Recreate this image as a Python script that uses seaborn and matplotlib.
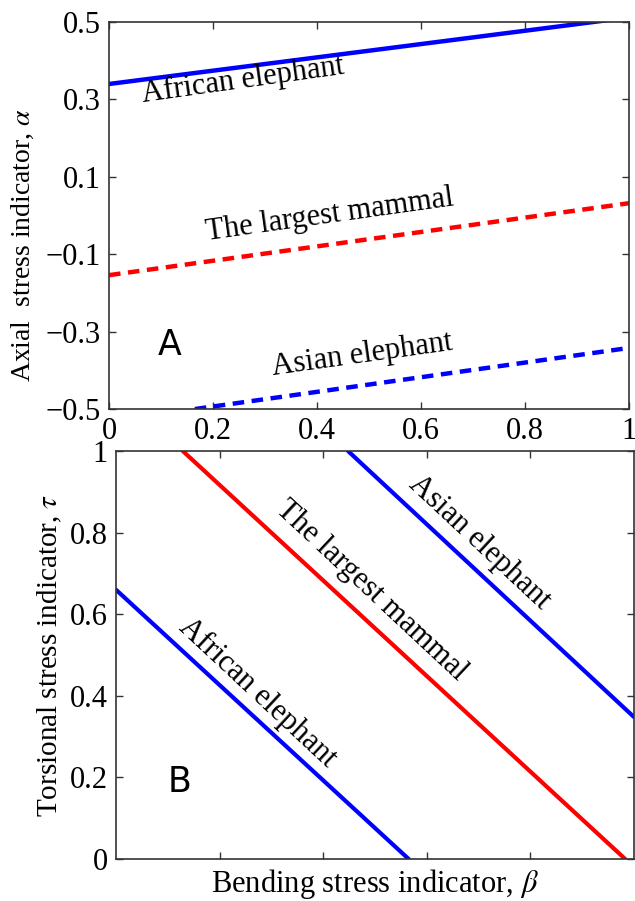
import numpy as np
import pandas as pd
import matplotlib
matplotlib.use("Agg")
import matplotlib.pyplot as plt
import seaborn as sns

sns.set_style("ticks")
sns.set_style({"xtick.direction": "in", "ytick.direction": "in",
               "xtick.top": True, "ytick.right": True,
               "text.color": "black", "axes.labelcolor": "black",
               "xtick.color": "#333333", "ytick.color": "#333333"})
plt.rcParams["font.family"] = ["Liberation Serif", "DejaVu Serif"]
plt.rcParams["mathtext.fontset"] = "stix"

# panel A: axial stress indicator vs bending stress indicator (line endpoints)
beta_a = [0.0, 1.0]
african_alpha = [0.34, 0.512]
mammal_alpha = [-0.154, 0.032]
asian_beta = [0.165, 1.0]
asian_alpha = [-0.5, -0.342]

# panel B: torsional stress indicator vs bending stress indicator
african_beta_b = [0.0, 0.565]
african_tau = [0.66, 0.0]
mammal_beta_b = [0.129, 0.983]
mammal_tau = [1.0, 0.0]
asian_beta_b = [0.448, 1.0]
asian_tau = [1.0, 0.348]

a_yticks = [0.5, 0.3, 0.1, -0.1, -0.3, -0.5]
a_xticks = [0, 0.2, 0.4, 0.6, 0.8, 1]
b_yticks = [0, 0.2, 0.4, 0.6, 0.8, 1]
b_xticks = [0.2, 0.4, 0.6, 0.8]

blue = "#0000ff"
red = "#ff0000"
dash = (0, (2.6, 1.7))

fig = plt.figure(figsize=(6.35, 9.01), dpi=100)
ax1 = fig.add_axes([0.1717, 0.546, 0.819, 0.4295])
ax2 = fig.add_axes([0.1827, 0.0466, 0.8157, 0.4528])

sns.lineplot(x=beta_a, y=african_alpha, ax=ax1, color=blue, lw=3.2)
sns.lineplot(x=beta_a, y=mammal_alpha, ax=ax1, color=red, lw=3.2, linestyle=dash)
sns.lineplot(x=asian_beta, y=asian_alpha, ax=ax1, color=blue, lw=3.2, linestyle=dash)

ax1.set_xlim(0, 1)
ax1.set_ylim(-0.5, 0.5)
ax1.set_xticks(a_xticks)
ax1.set_xticklabels(["0", "0.2", "0.4", "0.6", "0.8", "1"])
ax1.set_yticks(a_yticks)
ax1.set_yticklabels([("\u2212" + f"{abs(v):.1f}") if v < 0 else f"{v:.1f}" for v in a_yticks])
ax1.set_ylabel(r"Axial  stress indicator, $\alpha$", fontsize=20, labelpad=2)
ax1.yaxis.set_label_coords(-0.14, 0.424)

txt = dict(fontsize=22, ha="center", va="center")
ax1.text(0.258, 0.35, "African elephant", rotation=8, **txt)
ax1.text(0.425, 0.001, "The largest mammal", rotation=8, **txt)
ax1.text(0.487, -0.36, "Asian elephant", rotation=8, **txt)
ax1.text(0.117, -0.335, "A", fontsize=25, family="DejaVu Sans", ha="center", va="center")

sns.lineplot(x=african_beta_b, y=african_tau, ax=ax2, color=blue, lw=3)
sns.lineplot(x=mammal_beta_b, y=mammal_tau, ax=ax2, color=red, lw=3)
sns.lineplot(x=asian_beta_b, y=asian_tau, ax=ax2, color=blue, lw=3)

ax2.set_xlim(0, 1)
ax2.set_ylim(0, 1)
ax2.set_xticks(b_xticks)
ax2.set_xticklabels([])
ax2.set_yticks(b_yticks)
ax2.set_yticklabels(["0", "0.2", "0.4", "0.6", "0.8", "1"])
ax2.set_ylabel(r"Torsional stress indicator, $\tau$", fontsize=21, labelpad=4)
ax2.set_xlabel(r"Bending stress indicator, $\beta$", fontsize=22, labelpad=0)

ax2.text(0.492, 0.659, "The largest mammal", rotation=-43, **txt)
ax2.text(0.702, 0.777, "Asian elephant", rotation=-43, **txt)
ax2.text(0.273, 0.407, "African elephant", rotation=-43, **txt)
ax2.text(0.123, 0.189, "B", fontsize=25, family="DejaVu Sans", ha="center", va="center")

for ax in (ax1, ax2):
    ax.tick_params(labelsize=22, length=5, width=1, pad=6, labelcolor="black")
    for s in ax.spines.values():
        s.set_color("#333333")
        s.set_linewidth(1.2)
        s.set_visible(True)

fig.savefig("out.png", dpi=100)
